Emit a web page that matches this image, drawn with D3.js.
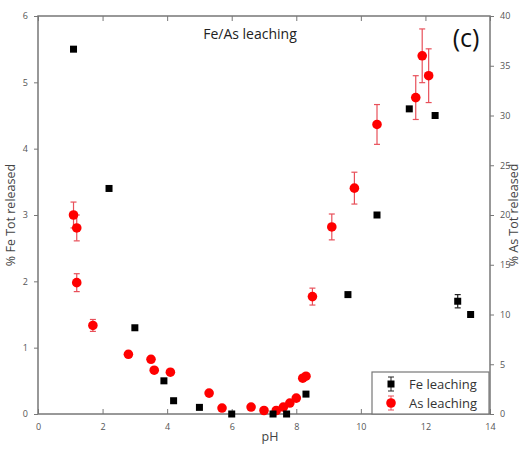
<!DOCTYPE html>
<html><head><meta charset="utf-8">
<script src="https://d3js.org/d3.v7.min.js"></script>
<style>body{margin:0;background:#fff;font-family:"Open Sans",sans-serif;}</style>
</head><body><svg id="c" width="528" height="458"></svg>
<script>
const fePH  = [1.1, 2.2, 3.0, 3.9, 4.2, 5.0, 6.0, 7.28, 7.7, 8.3, 9.6, 10.5, 11.5, 12.3, 13.0, 13.4];
const feVal = [5.5, 3.4, 1.3, 0.5, 0.2, 0.1, 0.0, 0.0, 0.0, 0.3, 1.8, 3.0, 4.6, 4.5, 1.7, 1.5];
const feErr = [0, 0, 0, 0, 0, 0, 0, 0, 0, 0, 0, 0, 0, 0, 0.1, 0];
const asPH  = [1.1, 1.2, 1.2, 1.7, 2.8, 3.5, 3.6, 4.1, 5.3, 5.7, 6.6, 7.0, 7.38, 7.6, 7.8, 8.0, 8.2, 8.3, 8.5, 9.1, 9.8, 10.5, 11.7, 11.9, 12.1];
const asVal = [20.0, 18.7, 13.2, 8.9, 6.0, 5.5, 4.4, 4.2, 2.1, 0.6, 0.7, 0.35, 0.35, 0.7, 1.1, 1.6, 3.6, 3.8, 11.8, 18.8, 22.7, 29.1, 31.8, 36.0, 34.0];
const asErr = [1.3, 1.3, 0.9, 0.6, 0.3, 0.3, 0, 0, 0, 0, 0, 0, 0, 0, 0, 0, 0, 0, 0.85, 1.3, 1.6, 2.0, 2.2, 2.7, 2.7];
const xTicks = [0, 2, 4, 6, 8, 10, 12, 14];
const feTicks = [0, 1, 2, 3, 4, 5, 6];
const asTicks = [0, 5, 10, 15, 20, 25, 30, 35, 40];

const svg = d3.select("#c");
const L = 38, R = 490, T = 16, B = 414;
const x = d3.scaleLinear().domain([0, 14]).range([L, R]);
const yFe = d3.scaleLinear().domain([0, 6]).range([B, T]);
const yAs = d3.scaleLinear().domain([0, 40]).range([B, T]);
const axisCol = "#777", textCol = "#555";

function styleAxis(g){
  g.select(".domain").remove();
  g.selectAll("line").attr("stroke", axisCol);
  g.selectAll("text").attr("fill", textCol).style("font-size", "9px").style("font-family", "'Open Sans',sans-serif");
}
svg.append("g").attr("transform", `translate(0,${B})`)
  .call(d3.axisBottom(x).tickValues(xTicks).tickFormat(d3.format("d")).tickSizeInner(-5).tickSizeOuter(0).tickPadding(10)).call(styleAxis);
svg.append("g").attr("transform", `translate(0,${T})`)
  .call(d3.axisTop(x).tickValues(xTicks).tickSizeInner(-5).tickSizeOuter(0).tickFormat("")).call(styleAxis);
svg.append("g").attr("transform", `translate(${L},0)`)
  .call(d3.axisLeft(yFe).tickValues(feTicks).tickFormat(d3.format("d")).tickSizeInner(4).tickSizeOuter(0).tickPadding(6)).call(styleAxis);
svg.append("g").attr("transform", `translate(${R},0)`)
  .call(d3.axisRight(yAs).tickValues(asTicks).tickFormat(d3.format("d")).tickSizeInner(4).tickSizeOuter(0).tickPadding(6)).call(styleAxis);
svg.append("rect").attr("x", L).attr("y", T).attr("width", R-L).attr("height", B-T)
  .attr("fill", "none").attr("stroke", axisCol).attr("stroke-width", 1.5);

// labels
svg.append("text").attr("x", 270).attr("y", 441).attr("text-anchor", "middle")
  .attr("fill", "#444").style("font-size", "12.5px").text("pH");
svg.append("text").attr("transform", "translate(15,215) rotate(-90)").attr("text-anchor", "middle")
  .attr("fill", "#444").style("font-size", "12.5px").text("% Fe Tot released");
svg.append("text").attr("transform", "translate(518,215) rotate(-90)").attr("text-anchor", "middle")
  .attr("fill", "#444").style("font-size", "12.5px").text("% As Tot released");
svg.append("text").attr("x", 250).attr("y", 39).attr("text-anchor", "middle")
  .attr("fill", "#222").style("font-size", "14px").text("Fe/As leaching");
svg.append("text").attr("x", 466).attr("y", 47).attr("text-anchor", "middle")
  .attr("fill", "#111").style("font-size", "25px").text("(c)");

const errCol = "#e8505a";
function errBars(ph, val, err, y, col){
  const g = svg.append("g").attr("stroke", col).attr("stroke-width", 1.2);
  ph.forEach((p, i) => {
    if (!err[i]) return;
    const cx = x(p), y1 = y(val[i] - err[i]), y2 = y(val[i] + err[i]);
    g.append("line").attr("x1", cx).attr("x2", cx).attr("y1", y1).attr("y2", y2);
    g.append("line").attr("x1", cx-3).attr("x2", cx+3).attr("y1", y1).attr("y2", y1);
    g.append("line").attr("x1", cx-3).attr("x2", cx+3).attr("y1", y2).attr("y2", y2);
  });
}
errBars(asPH, asVal, asErr, yAs, errCol);
errBars(fePH, feVal, feErr, yFe, "#222");

svg.append("g").selectAll("circle").data(asPH).join("circle")
  .attr("cx", d => x(d)).attr("cy", (d, i) => yAs(asVal[i])).attr("r", 4.8).attr("fill", "#f00");
svg.append("g").selectAll("rect").data(fePH).join("rect")
  .attr("x", d => x(d) - 3.5).attr("y", (d, i) => yFe(feVal[i]) - 3.5)
  .attr("width", 7).attr("height", 7).attr("fill", "#000");

// legend
const lg = svg.append("g");
lg.append("rect").attr("x", 372).attr("y", 372).attr("width", 117).attr("height", 42)
  .attr("fill", "#fff").attr("stroke", axisCol).attr("stroke-width", 1.2);
const items = [{name:"Fe leaching", col:"#000", ecol:"#222", sq:true}, {name:"As leaching", col:"#f00", ecol:errCol, sq:false}];
items.forEach((it, i) => {
  const cy = 384 + i * 19, cx = 391;
  lg.append("line").attr("x1", cx).attr("x2", cx).attr("y1", cy-7).attr("y2", cy+7).attr("stroke", it.ecol);
  lg.append("line").attr("x1", cx-3).attr("x2", cx+3).attr("y1", cy-7).attr("y2", cy-7).attr("stroke", it.ecol);
  lg.append("line").attr("x1", cx-3).attr("x2", cx+3).attr("y1", cy+7).attr("y2", cy+7).attr("stroke", it.ecol);
  if (it.sq) lg.append("rect").attr("x", cx-3.5).attr("y", cy-3.5).attr("width", 7).attr("height", 7).attr("fill", it.col);
  else lg.append("circle").attr("cx", cx).attr("cy", cy).attr("r", 4.8).attr("fill", it.col);
  lg.append("text").attr("x", 409).attr("y", cy + 5).attr("fill", "#333").style("font-size", "13px").text(it.name);
});
</script></body></html>
